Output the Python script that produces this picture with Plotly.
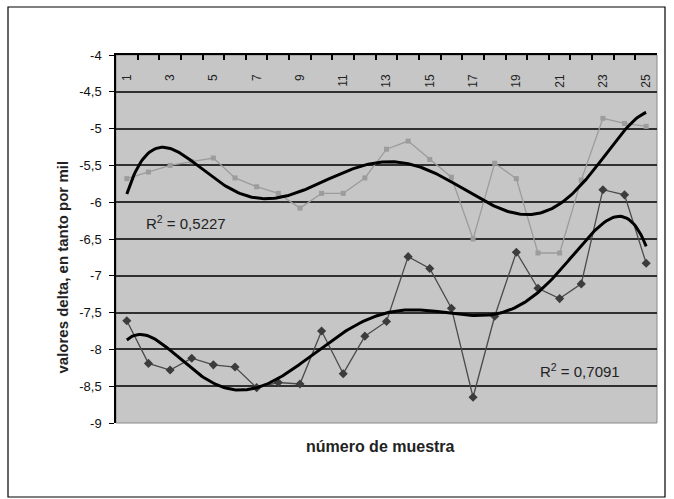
import numpy as np
import plotly.graph_objects as go

# ---- data ----
muestra = list(range(1, 26))
serie_superior = [-5.68, -5.59, -5.50, -5.45, -5.40, -5.67, -5.79, -5.88, -6.08, -5.88,
                  -5.88, -5.67, -5.28, -5.17, -5.42, -5.66, -6.50, -5.47, -5.68, -6.69,
                  -6.69, -5.70, -4.86, -4.93, -4.97]
serie_inferior = [-7.61, -8.19, -8.28, -8.12, -8.21, -8.24, -8.52, -8.45, -8.47, -7.75,
                  -8.33, -7.82, -7.62, -6.74, -6.90, -7.44, -8.65, -7.55, -6.68, -7.17,
                  -7.31, -7.11, -5.83, -5.90, -6.83]
r2_superior = "R<sup>2</sup> = 0,5227"
r2_inferior = "R<sup>2</sup> = 0,7091"
y_ticks = [-4, -4.5, -5, -5.5, -6, -6.5, -7, -7.5, -8, -8.5, -9]
y_ticktext = ["-4", "-4,5", "-5", "-5,5", "-6", "-6,5", "-7", "-7,5", "-8", "-8,5", "-9"]
x_label_vals = list(range(1, 26, 2))
x_label_text = [str(v) for v in x_label_vals]
x_boundaries = [v + 0.5 for v in range(0, 26)]

FONT = "Liberation Sans, Arial, sans-serif"

x = np.array(muestra, dtype=float)
xf = np.linspace(1, 25, 300)
trend_sup = np.polyval(np.polyfit(x, serie_superior, 6), xf)
trend_inf = np.polyval(np.polyfit(x, serie_inferior, 6), xf)

fig = go.Figure()
fig.add_trace(go.Scatter(x=muestra, y=serie_superior, mode="lines+markers",
                         line=dict(color="#9c9c9c", width=1.3),
                         marker=dict(symbol="square", size=5, color="#9c9c9c"),
                         showlegend=False))
fig.add_trace(go.Scatter(x=muestra, y=serie_inferior, mode="lines+markers",
                         line=dict(color="#4a4a4a", width=1.3),
                         marker=dict(symbol="diamond", size=7, color="#3c3c3c"),
                         showlegend=False))
fig.add_trace(go.Scatter(x=xf, y=trend_sup, mode="lines",
                         line=dict(color="#000000", width=3), showlegend=False))
fig.add_trace(go.Scatter(x=xf, y=trend_inf, mode="lines",
                         line=dict(color="#000000", width=3), showlegend=False))
# invisible trace carrying the category label axis
fig.add_trace(go.Scatter(x=muestra, y=serie_superior, xaxis="x2", mode="markers",
                         marker=dict(opacity=0), hoverinfo="skip", showlegend=False))

L, R, T, B = 116, 17, 55, 76
W, H = 674, 499
pw, ph = W - L - R, H - T - B

fig.update_layout(
    width=W, height=H,
    margin=dict(l=L, r=R, t=T, b=B),
    paper_bgcolor="white",
    plot_bgcolor="#c6c6c6",
    font=dict(family=FONT, size=12, color="black"),
    xaxis=dict(range=[0.5, 25.5], side="top", showline=True, linecolor="black",
               linewidth=1.5, tickmode="array", tickvals=x_boundaries,
               showticklabels=False, ticks="inside", ticklen=5,
               tickcolor="black", tickwidth=1.5, showgrid=False, zeroline=False),
    xaxis2=dict(range=[0.5, 25.5], overlaying="x", side="bottom", anchor="free",
                position=(H - B - 71) / ph,
                showline=False, tickmode="array", tickvals=x_label_vals,
                ticktext=x_label_text, ticks="", tickangle=-90,
                showgrid=False, zeroline=False,
                tickfont=dict(size=12, family=FONT, color="#222")),
    yaxis=dict(range=[-9, -4], tickmode="array", tickvals=y_ticks, ticktext=y_ticktext,
               showline=True, linecolor="black", linewidth=1.5, ticks="outside",
               ticklen=5, tickcolor="black", showgrid=True, gridcolor="#303030",
               gridwidth=2, zeroline=False, ticklabelstandoff=5,
               tickfont=dict(size=13, family=FONT, color="#111")),
    shapes=[
        dict(type="rect", xref="paper", yref="paper",
             x0=(8 - L) / pw, x1=(665 - L) / pw,
             y0=(H - B - 497) / ph, y1=(H - B - 7) / ph,
             line=dict(color="black", width=1.2), fillcolor="rgba(0,0,0,0)", layer="below"),
        dict(type="rect", xref="paper", yref="paper", x0=0, x1=1, y0=0, y1=1,
             line=dict(color="#8a8a8a", width=1), fillcolor="rgba(0,0,0,0)", layer="below"),
    ],
    annotations=[
        dict(x=1.8, y=-6.28, xref="x", yref="y", text=r2_superior, showarrow=False,
             xanchor="left", yanchor="middle", font=dict(size=15, color="#222")),
        dict(x=20.0, y=-8.28, xref="x", yref="y", text=r2_inferior, showarrow=False,
             xanchor="left", yanchor="middle", font=dict(size=15, color="#222")),
        dict(x=(380 - L) / pw, y=(H - B - 457) / ph, xref="paper", yref="paper",
             text="<b>número de muestra</b>", showarrow=False,
             font=dict(size=16, color="#222")),
        dict(x=(51 - L) / pw, y=(H - B - 267) / ph, xref="paper", yref="paper",
             text="<b>valores delta, en tanto por mil</b>", showarrow=False, textangle=-90,
             font=dict(size=15, color="#222")),
    ],
)

fig.write_html("out.html", config={"displayModeBar": False},
               post_script="document.body.style.margin='0';document.body.style.overflow='hidden';")
